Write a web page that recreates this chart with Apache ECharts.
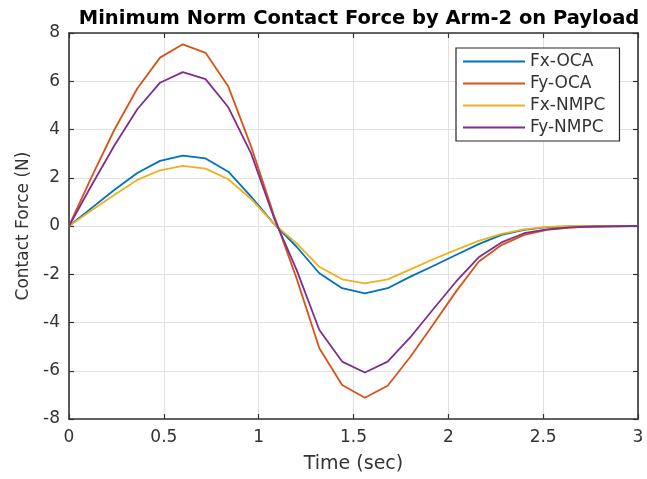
<!DOCTYPE html>
<html>
<head>
<meta charset="utf-8">
<script src="https://cdn.jsdelivr.net/npm/echarts@6/dist/echarts.min.js"></script>
<style>html,body{margin:0;padding:0;background:#fff}#c{width:647px;height:479px}</style>
</head>
<body>
<div id="c"></div>
<script>
// Time samples (sec)
var time = [0,0.12,0.24,0.36,0.48,0.6,0.72,0.84,0.96,1.08,1.2,1.32,1.44,1.56,1.68,1.8,1.92,2.04,2.16,2.28,2.4,2.52,2.64,2.76,2.88,3.0];
var seriesNames = ['Fx-OCA','Fy-OCA','Fx-NMPC','Fy-NMPC'];
var fxOCA  = [0,0.75,1.5,2.2,2.7,2.92,2.8,2.25,1.22,0.1,-0.86,-1.96,-2.58,-2.79,-2.58,-2.10,-1.66,-1.20,-0.75,-0.37,-0.16,-0.05,-0.02,-0.01,0,0];
var fyOCA  = [0,2.05,4.0,5.7,6.98,7.53,7.18,5.78,3.3,0.45,-2.17,-5.07,-6.59,-7.12,-6.62,-5.42,-4.08,-2.72,-1.48,-0.79,-0.37,-0.16,-0.07,-0.03,-0.01,0];
var fxNMPC = [0,0.65,1.3,1.91,2.31,2.49,2.38,1.94,1.12,0.1,-0.72,-1.69,-2.21,-2.38,-2.21,-1.80,-1.38,-0.99,-0.62,-0.33,-0.14,-0.04,-0.01,0,0,0];
var fyNMPC = [0,1.7,3.35,4.84,5.94,6.38,6.09,4.92,3.01,0.35,-1.82,-4.31,-5.62,-6.07,-5.62,-4.61,-3.45,-2.31,-1.30,-0.68,-0.30,-0.14,-0.06,-0.02,-0.01,0];
var xTicks = [0,0.5,1,1.5,2,2.5,3];
var yTicks = [-8,-6,-4,-2,0,2,4,6,8];

var colors = ['#0072BD','#D95319','#EDB120','#7E2F8E'];
var values = [fxOCA, fyOCA, fxNMPC, fyNMPC];
var FONT = 'DejaVu Sans';
var axisColor = '#333333';
var textColor = '#333333';
var gridColor = '#e2e2e2';

function pairs(v){ return time.map(function(t,i){ return [t, v[i]]; }); }

var series = seriesNames.map(function(n,i){
  return {
    name: n, type: 'line', data: pairs(values[i]),
    symbol: 'none', showSymbol: false,
    lineStyle: {color: colors[i], width: 1.8},
    itemStyle: {color: colors[i]},
    animation: false
  };
});

function xAx(pos, main){
  return {
    type: 'value', position: pos,
    min: xTicks[0], max: xTicks[xTicks.length-1], interval: xTicks[1]-xTicks[0],
    axisLine: {show: true, onZero: false, lineStyle: {color: axisColor, width: 1.6}},
    axisTick: {show: true, inside: true, length: 5, lineStyle: {color: axisColor, width: 1.2}},
    axisLabel: {show: main, fontSize: 17, color: textColor, fontFamily: FONT, margin: 10},
    splitLine: {show: main, lineStyle: {color: gridColor, width: 1}},
    name: main ? 'Time (sec)' : '', nameLocation: 'middle', nameGap: 36,
    nameTextStyle: {fontSize: 19, color: textColor, fontFamily: FONT}
  };
}
function yAx(pos, main){
  return {
    type: 'value', position: pos,
    min: yTicks[0], max: yTicks[yTicks.length-1], interval: yTicks[1]-yTicks[0],
    axisLine: {show: true, onZero: false, lineStyle: {color: axisColor, width: 1.6}},
    axisTick: {show: true, inside: true, length: 5, lineStyle: {color: axisColor, width: 1.2}},
    axisLabel: {show: main, fontSize: 17, color: textColor, fontFamily: FONT, margin: 9},
    splitLine: {show: main, lineStyle: {color: gridColor, width: 1}},
    name: main ? 'Contact Force (N)' : '', nameLocation: 'middle', nameGap: 35,
    nameTextStyle: {fontSize: 17, color: textColor, fontFamily: FONT}
  };
}

var chart = echarts.init(document.getElementById('c'), null, {renderer: 'canvas'});
chart.setOption({
  backgroundColor: '#ffffff',
  animation: false,
  title: {
    text: 'Minimum Norm Contact Force by Arm-2 on Payload',
    left: 354, top: 4, textAlign: 'center',
    textStyle: {fontSize: 19.5, fontWeight: 'bold', color: '#000', fontFamily: FONT}
  },
  grid: {left: 69, right: 9, top: 33, bottom: 60, containLabel: false},
  xAxis: [xAx('bottom', true), xAx('top', false)],
  yAxis: [yAx('left', true), yAx('right', false)],
  legend: {
    orient: 'vertical', left: 456, top: 48,
    data: seriesNames,
    itemWidth: 62, itemHeight: 14, itemGap: 5,
    padding: [5, 14, 5, 6],
    itemStyle: {opacity: 0},
    borderColor: '#262626', borderWidth: 1.2, backgroundColor: '#fff',
    textStyle: {fontSize: 17, color: textColor, fontFamily: FONT}
  },
  series: series
});
</script>
</body>
</html>
